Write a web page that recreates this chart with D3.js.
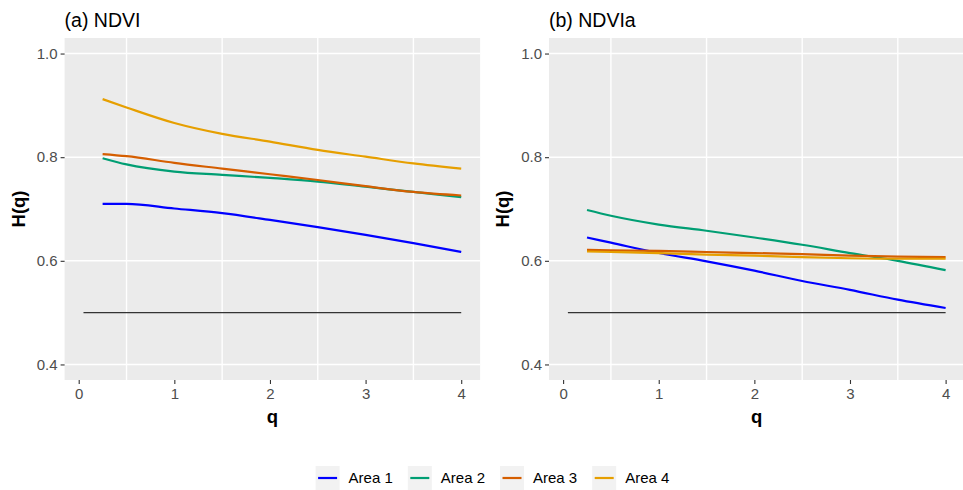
<!DOCTYPE html>
<html>
<head>
<meta charset="utf-8">
<script src="https://cdn.jsdelivr.net/npm/d3@7"></script>
<style>
  html, body { margin: 0; padding: 0; background: #ffffff; }
  svg { display: block; font-family: "Liberation Sans", Arial, sans-serif; }
</style>
</head>
<body>
<svg id="chart" width="963" height="490"></svg>
<script>
// Generalised Hurst exponent H(q) per area, for NDVI and NDVIa
const qValues = [0.25, 0.5, 1, 1.5, 2, 2.5, 3, 3.5, 4];
const areaNames = ["Area 1", "Area 2", "Area 3", "Area 4"];
const areaColors = ["#0000FF", "#009E73", "#D55E00", "#E69F00"];

const ndviArea1 = [0.710, 0.710, 0.701, 0.692, 0.679, 0.665, 0.650, 0.634, 0.617];
const ndviArea2 = [0.798, 0.786, 0.772, 0.766, 0.760, 0.753, 0.743, 0.733, 0.723];
const ndviArea3 = [0.806, 0.802, 0.789, 0.778, 0.767, 0.756, 0.744, 0.733, 0.726];
const ndviArea4 = [0.912, 0.896, 0.866, 0.845, 0.830, 0.814, 0.801, 0.788, 0.778];

const ndviaArea1 = [0.645, 0.635, 0.615, 0.599, 0.581, 0.561, 0.544, 0.525, 0.509];
const ndviaArea2 = [0.698, 0.687, 0.670, 0.658, 0.645, 0.631, 0.615, 0.600, 0.582];
const ndviaArea3 = [0.621, 0.620, 0.619, 0.617, 0.615, 0.613, 0.610, 0.608, 0.607];
const ndviaArea4 = [0.618, 0.617, 0.615, 0.612, 0.610, 0.607, 0.605, 0.604, 0.604];

const panelTitles = ["(a) NDVI", "(b) NDVIa"];
const xTicks = [0, 1, 2, 3, 4];
const xMinorTicks = [0.5, 1.5, 2.5, 3.5];
const yTicks = [0.4, 0.6, 0.8, 1.0];
const refLineQ = [0.05, 4];
const refLineH = 0.5;

const panels = [
  { title: panelTitles[0], series: [ndviArea1, ndviArea2, ndviArea3, ndviArea4], left: 64.6 },
  { title: panelTitles[1], series: [ndviaArea1, ndviaArea2, ndviaArea3, ndviaArea4], left: 549 }
];

const svg = d3.select("#chart");
const panelW = 415.5;
const plotTop = 38, plotBottom = 380;

panels.forEach(p => {
  const x = d3.scaleLinear().domain([-0.1475, 4.1975]).range([p.left, p.left + panelW]);
  const y = d3.scaleLinear().domain([0.37, 1.03]).range([plotBottom, plotTop]);
  const g = svg.append("g");

  g.append("rect")
    .attr("x", x.range()[0]).attr("y", plotTop)
    .attr("width", panelW).attr("height", plotBottom - plotTop)
    .attr("fill", "#EBEBEB");

  // horizontal grid at y breaks, vertical grid at half-step q
  g.selectAll(".hgrid").data(yTicks).enter().append("line")
    .attr("x1", x.range()[0]).attr("x2", x.range()[1])
    .attr("y1", d => y(d)).attr("y2", d => y(d))
    .attr("stroke", "#FFFFFF").attr("stroke-width", 1.6);
  g.selectAll(".vgrid").data(xMinorTicks).enter().append("line")
    .attr("x1", d => x(d)).attr("x2", d => x(d))
    .attr("y1", plotTop).attr("y2", plotBottom)
    .attr("stroke", "#FFFFFF").attr("stroke-width", 1.4);

  // reference line at H = 0.5
  g.append("line")
    .attr("x1", x(refLineQ[0])).attr("x2", x(refLineQ[1]))
    .attr("y1", y(refLineH)).attr("y2", y(refLineH))
    .attr("stroke", "#333333").attr("stroke-width", 1.4);

  const line = d3.line()
    .x((d, i) => x(qValues[i]))
    .y(d => y(d))
    .curve(d3.curveMonotoneX);

  p.series.forEach((vals, k) => {
    g.append("path")
      .attr("d", line(vals))
      .attr("fill", "none")
      .attr("stroke", areaColors[k])
      .attr("stroke-width", 2.2);
  });

  // axes
  const xAxis = d3.axisBottom(x).tickValues(xTicks).tickFormat(d3.format("d")).tickSize(4).tickPadding(4);
  const yAxis = d3.axisLeft(y).tickValues(yTicks).tickFormat(d3.format(".1f")).tickSize(4).tickPadding(3);

  const gx = g.append("g").attr("transform", `translate(0,${plotBottom})`).call(xAxis);
  const gy = g.append("g").attr("transform", `translate(${x.range()[0]},0)`).call(yAxis);
  [gx, gy].forEach(ax => {
    ax.select(".domain").remove();
    ax.selectAll(".tick line").attr("stroke", "#333333").attr("stroke-width", 1.1);
    ax.selectAll(".tick text").attr("fill", "#4D4D4D").style("font-size", "15px")
      .style("font-family", "'Liberation Sans', Arial, sans-serif");
  });

  g.append("text")
    .attr("x", x.range()[0]).attr("y", 27)
    .attr("fill", "#000000")
    .style("font-size", "19.5px")
    .text(p.title);

  g.append("text")
    .attr("x", (x.range()[0] + x.range()[1]) / 2).attr("y", 423)
    .attr("text-anchor", "middle")
    .style("font-size", "18.5px").style("font-weight", "bold")
    .text("q");

  g.append("text")
    .attr("transform", `translate(${x.range()[0] - 40},${(plotTop + plotBottom) / 2}) rotate(-90)`)
    .attr("text-anchor", "middle")
    .style("font-size", "18.5px").style("font-weight", "bold")
    .text("H(q)");
});

// legend along the bottom
const legend = svg.append("g");
const legendY = 478;
let lx = 0;
areaNames.forEach((name, k) => {
  const item = legend.append("g").attr("transform", `translate(${lx},0)`);
  item.append("rect").attr("x", 0).attr("y", legendY - 12).attr("width", 24).attr("height", 24).attr("fill", "#F2F2F2");
  item.append("line").attr("x1", 2.5).attr("x2", 21.5).attr("y1", legendY).attr("y2", legendY)
    .attr("stroke", areaColors[k]).attr("stroke-width", 2.2);
  const t = item.append("text").attr("x", 33).attr("y", legendY).attr("dy", "0.36em")
    .style("font-size", "15px").attr("fill", "#000000").text(name);
  lx += 33 + t.node().getComputedTextLength() + 15;
});
const legendWidth = lx - 15;
legend.attr("transform", `translate(${492.5 - legendWidth / 2},0)`);
</script>
</body>
</html>
